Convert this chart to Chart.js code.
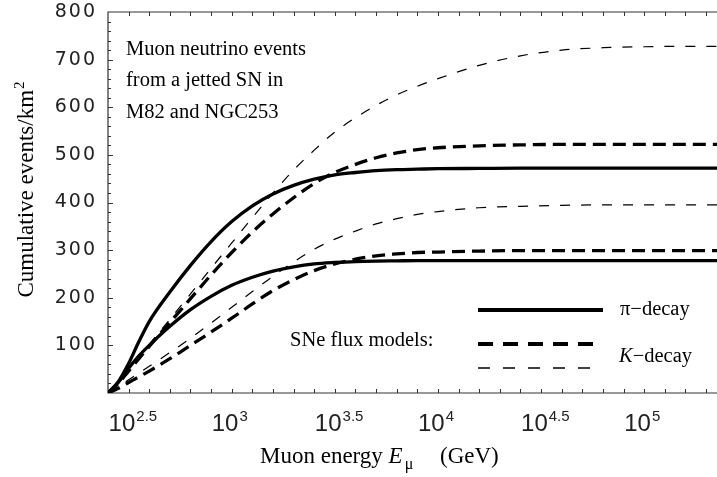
<!DOCTYPE html>
<html>
<head>
<meta charset="utf-8">
<script src="https://cdn.jsdelivr.net/npm/chart.js@4"></script>
<style>
  html, body { margin: 0; padding: 0; background: #fff; }
  canvas { display: block; }
</style>
</head>
<body>
<canvas id="chart" width="717" height="477"></canvas>
<script>
// log10 of the muon energy in GeV where the curves are read
const logE = [2.4, 2.45, 2.5, 2.55, 2.6, 2.7, 2.8, 2.9, 3.0, 3.1, 3.2, 3.3, 3.4, 3.5, 3.6, 3.7, 3.8, 3.9, 4.0, 4.2, 4.4, 4.6, 4.8, 5.0, 5.2, 5.4];

// cumulative events / km^2
const piUpper   = [0, 24, 62, 108, 150, 212, 268, 318, 360, 393, 418, 436, 449, 458, 463, 467, 469, 470, 471, 471.5, 472, 472, 472, 472, 472, 472];
const piLower   = [0, 22, 52, 78, 100, 140, 175, 203, 226, 243, 256, 265, 271, 274, 276, 277, 277.5, 278, 278, 278, 278, 278, 278, 278, 278, 278];
const kUpper    = [0, 20, 46, 72, 98, 148, 198, 248, 295, 338, 376, 410, 440, 463, 480, 494, 504, 511, 515, 519, 521, 522, 522, 522, 522, 522];
const kLower    = [0, 10, 22, 34, 46, 72, 100, 128, 157, 187, 215, 238, 257, 271, 281, 288, 292, 295, 296, 298, 299, 299, 299, 299, 299, 299];
const thinUpper = [0, 22, 48, 75, 102, 155, 208, 262, 315, 368, 420, 468, 510, 548, 578, 604, 626, 644, 660, 688, 708, 720, 725, 727, 728, 728];
const thinLower = [0, 12, 28, 42, 56, 85, 115, 147, 180, 213, 245, 275, 302, 323, 340, 355, 366, 375, 381, 389, 392, 394, 395, 395, 395, 395];

// axis ticks
const xTickValues = [2.5, 3, 3.5, 4, 4.5, 5];
const xTickExps = ['2.5', '3', '3.5', '4', '4.5', '5'];
const yTickValues = [100, 200, 300, 400, 500, 600, 700, 800];

const serif = '"Liberation Serif", "Times New Roman", serif';
const sans = '"Liberation Sans", Arial, sans-serif';

function series(vals, width, dash) {
    return {
        data: logE.map((x, i) => ({ x: x, y: vals[i] })),
        borderColor: '#000',
        borderWidth: width,
        borderDash: dash,
        pointRadius: 0,
        fill: false,
        cubicInterpolationMode: 'monotone'
    };
}

// frame and inward ticks, drawn under the curves
const frame = {
    id: 'frame',
    beforeDatasetsDraw(chart) {
        const { ctx, chartArea: a, scales: { x, y } } = chart;
        ctx.save();
        ctx.strokeStyle = '#333';
        ctx.lineWidth = 1.2;
        ctx.beginPath();
        ctx.moveTo(a.right + 2, a.top);
        ctx.lineTo(a.left, a.top);
        ctx.lineTo(a.left, a.bottom);
        ctx.lineTo(a.right + 2, a.bottom);
        ctx.stroke();

        ctx.lineWidth = 1;
        ctx.beginPath();
        for (let k = 25; k <= 53; k++) {
            const px = Math.round(x.getPixelForValue(k / 10)) + 0.5;
            ctx.moveTo(px, a.bottom); ctx.lineTo(px, a.bottom - 4);
            ctx.moveTo(px, a.top); ctx.lineTo(px, a.top + 4);
        }
        for (let v = 20; v < 800; v += 20) {
            const py = Math.round(y.getPixelForValue(v)) + 0.5;
            ctx.moveTo(a.left, py);
            ctx.lineTo(a.left + (v % 100 === 0 ? 5 : 3), py);
        }
        ctx.stroke();
        ctx.restore();
    }
};

// tick labels, axis titles, notes and the line-style key
const texts = {
    id: 'texts',
    afterDraw(chart) {
        const { ctx, scales: { x, y } } = chart;
        ctx.save();
        ctx.fillStyle = '#222';

        // y tick labels
        ctx.font = '19px "DejaVu Sans", sans-serif';
        ctx.letterSpacing = '2px';
        ctx.textAlign = 'right';
        ctx.textBaseline = 'middle';
        yTickValues.forEach(v => ctx.fillText(String(v), 97, y.getPixelForValue(v)));
        ctx.letterSpacing = '0px';

        // x tick labels 10^n
        ctx.textAlign = 'left';
        ctx.textBaseline = 'alphabetic';
        xTickValues.forEach((v, i) => {
            const left = x.getPixelForValue(v) - 20;
            ctx.font = '24px ' + sans;
            ctx.fillText('10', left, 431);
            const w = ctx.measureText('10').width;
            ctx.font = '15px ' + sans;
            ctx.fillText(xTickExps[i], left + w + 1, 421);
        });

        ctx.fillStyle = '#000';
        // x axis title
        let cx = 260;
        ctx.font = '23px ' + serif;
        ctx.fillText('Muon energy ', cx, 463);
        cx += ctx.measureText('Muon energy ').width;
        ctx.font = 'italic 23px ' + serif;
        ctx.fillText('E', cx, 463);
        cx += ctx.measureText('E').width + 2;
        ctx.font = '16px ' + serif;
        ctx.fillText('\u03bc', cx, 469);
        ctx.font = '23px ' + serif;
        ctx.fillText('(GeV)', 440, 463);

        // y axis title
        ctx.save();
        ctx.translate(33, 190);
        ctx.rotate(-Math.PI / 2);
        ctx.font = '23px ' + serif;
        const main = 'Cumulative events/km';
        const mw = ctx.measureText(main).width;
        ctx.font = '15px ' + serif;
        const sw = ctx.measureText('2').width;
        const start = -(mw + sw) / 2;
        ctx.font = '23px ' + serif;
        ctx.fillText(main, start, 0);
        ctx.font = '15px ' + serif;
        ctx.fillText('2', start + mw + 1, -9);
        ctx.restore();

        // note in the upper left
        ctx.font = '20.5px ' + serif;
        ctx.fillText('Muon neutrino events', 126, 55);
        ctx.fillText('from a jetted SN in', 126, 86);
        ctx.fillText('M82 and NGC253', 126, 118);

        // key
        ctx.fillText('SNe flux models:', 290, 346);
        ctx.fillText('\u03c0\u2212decay', 620, 315);
        ctx.font = 'italic 20.5px ' + serif;
        ctx.fillText('K', 619, 362);
        const kw = ctx.measureText('K').width;
        ctx.font = '20.5px ' + serif;
        ctx.fillText('\u2212decay', 619 + kw, 362);

        ctx.strokeStyle = '#000';
        ctx.lineWidth = 4;
        ctx.beginPath(); ctx.moveTo(478, 310); ctx.lineTo(603, 310); ctx.stroke();
        ctx.setLineDash([15, 10]);
        ctx.beginPath(); ctx.moveTo(478, 344); ctx.lineTo(593, 344); ctx.stroke();
        ctx.lineWidth = 1.3;
        ctx.setLineDash([12, 13]);
        ctx.beginPath(); ctx.moveTo(478, 368); ctx.lineTo(590, 368); ctx.stroke();
        ctx.restore();
    }
};

const chart = new Chart(document.getElementById('chart'), {
    type: 'line',
    data: {
        datasets: [
            series(thinUpper, 1.2, [10, 11]),
            series(thinLower, 1.2, [10, 11]),
            series(kUpper, 3.3, [13, 7]),
            series(kLower, 3.3, [13, 7]),
            series(piUpper, 3.3, []),
            series(piLower, 3.3, [])
        ]
    },
    options: {
        responsive: false,
        animation: false,
        layout: { padding: { left: 108, top: 12, right: 0, bottom: 84 } },
        plugins: {
            legend: { display: false },
            tooltip: { enabled: false }
        },
        scales: {
            x: { type: 'linear', min: 2.4, max: 5.353, display: false },
            y: { min: 0, max: 800, display: false }
        }
    },
    plugins: [frame, texts]
});
</script>
</body>
</html>
